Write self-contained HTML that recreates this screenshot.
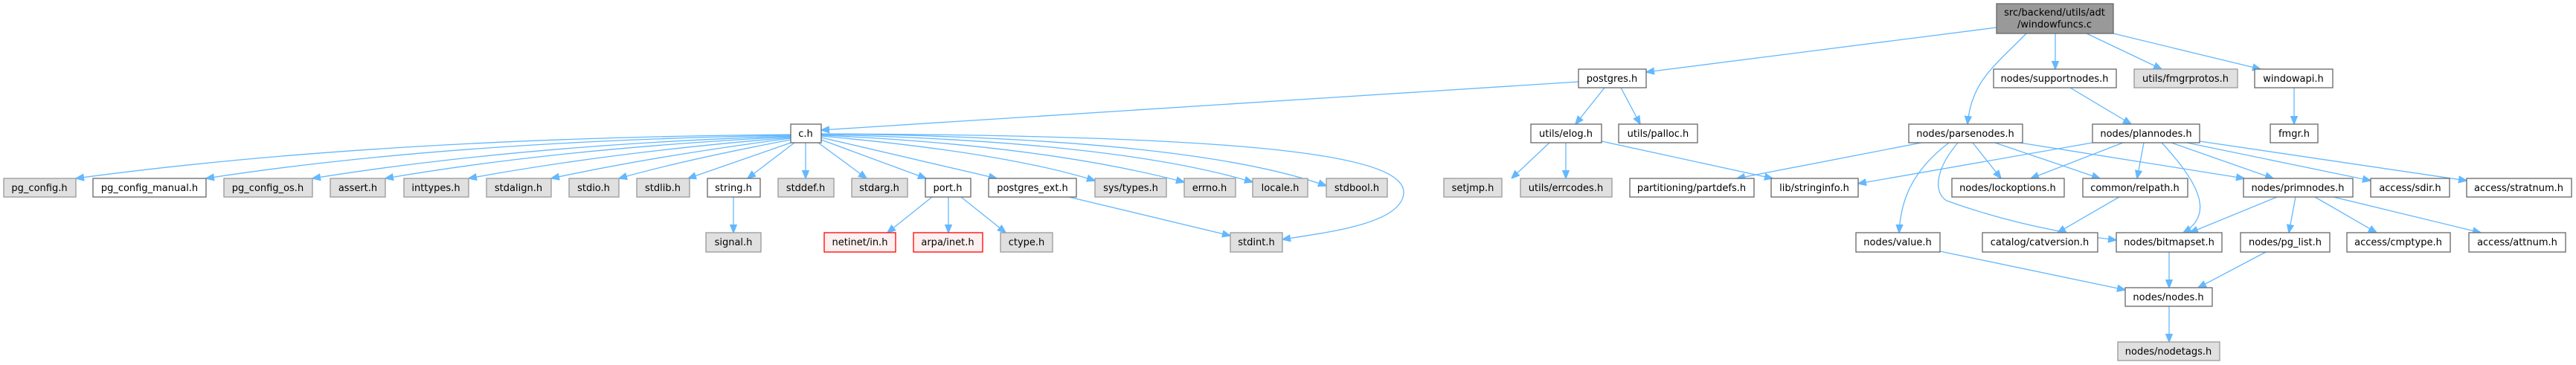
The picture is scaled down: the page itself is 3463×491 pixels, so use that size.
<!DOCTYPE html>
<html><head><meta charset="utf-8"><style>
html,body{margin:0;padding:0;background:#fff;width:3463px;height:491px;overflow:hidden}
svg text{font-family:"DejaVu Sans","Liberation Sans",sans-serif;font-size:13px;fill:#000;text-anchor:middle}
.w{fill:#fff;stroke:#666;stroke-width:1.3}
.g{fill:#e0e0e0;stroke:#999;stroke-width:1.3}
.r{fill:#fff0f0;stroke:#f00;stroke-width:1.3}
.m{fill:#999;stroke:#666;stroke-width:1.3}
path{fill:none;stroke:#63b8ff;stroke-width:1.3}
</style></head><body>
<svg width="3463" height="491" viewBox="0 0 3463 491" xmlns="http://www.w3.org/2000/svg">
<defs><marker id="a" viewBox="0 0 10 10" refX="10" refY="5" markerWidth="11" markerHeight="11" markerUnits="userSpaceOnUse" orient="auto"><path d="M0,1 L10,5 L0,9 z" style="fill:#63b8ff;stroke:#63b8ff"/></marker></defs>
<g marker-end="url(#a)">
<!-- main -->
<path d="M2684,37 L2213,97"/>
<path d="M2724,45 C2680,90 2650,110 2645,167"/>
<path d="M2763,45 L2763,93"/>
<path d="M2805,45 L2906,93"/>
<path d="M2841,45 L3039,93"/>
<!-- postgres -->
<path d="M2122,110 L1104,175"/>
<path d="M2157,118 L2118,167"/>
<path d="M2179,118 L2205,167"/>
<!-- c.h fan -->
<path d="M1063,181 Q500,186 102,240"/>
<path d="M1063,182 Q600,190 277,240"/>
<path d="M1063,183 Q700,195 420,240"/>
<path d="M1063,184 Q750,200 518,240"/>
<path d="M1063,185 Q820,205 630,240"/>
<path d="M1063,186 Q880,210 741,240"/>
<path d="M1063,188 Q920,215 832,240"/>
<path d="M1066,191 L925,240"/>
<path d="M1068,192 L1005,240"/>
<path d="M1083,192 L1083,240"/>
<path d="M1100,192 L1165,240"/>
<path d="M1104,188 L1245,240"/>
<path d="M1104,185 L1340,240"/>
<path d="M1104,183 Q1350,205 1472,243"/>
<path d="M1104,182 Q1400,195 1592,245"/>
<path d="M1104,181 Q1500,190 1684,245"/>
<path d="M1104,180 Q1600,185 1783,250"/>
<path d="M1104,180 C1700,182 1890,210 1887,260 C1884,300 1790,312 1724,322"/>
<!-- second level -->
<path d="M986,265 L986,313"/>
<path d="M1253,265 L1193,313"/>
<path d="M1275,265 L1275,313"/>
<path d="M1292,265 L1352,313"/>
<path d="M1437,265 L1654,317"/>
<!-- elog -->
<path d="M2083,192 L2032,240"/>
<path d="M2105,192 L2105,240"/>
<path d="M2153,190 L2383,240"/>
<!-- parsenodes -->
<path d="M2583,192 L2335,240"/>
<path d="M2620,192 C2570,230 2555,270 2553,313"/>
<path d="M2632,192 C2600,230 2600,260 2617,270 C2700,300 2780,315 2845,323"/>
<path d="M2652,192 L2690,240"/>
<path d="M2682,192 L2823,240"/>
<path d="M2715,192 L3017,240"/>
<!-- plannodes -->
<path d="M2813,192 L2498,247"/>
<path d="M2854,192 L2730,240"/>
<path d="M2882,192 L2873,240"/>
<path d="M2906,192 C2960,250 2975,290 2935,313"/>
<path d="M2919,192 L3056,240"/>
<path d="M2940,192 L3187,243"/>
<path d="M2957,190 L3316,243"/>
<!-- supportnodes, windowapi -->
<path d="M2783,118 L2865,167"/>
<path d="M3084,118 L3084,167"/>
<!-- relpath, primnodes -->
<path d="M2849,265 L2766,313"/>
<path d="M3061,265 L2944,313"/>
<path d="M3086,265 L3077,313"/>
<path d="M3112,265 L3195,313"/>
<path d="M3137,265 L3335,313"/>
<!-- to nodes.h -->
<path d="M2608,338 L2857,390"/>
<path d="M2916,339 L2916,387"/>
<path d="M3046,339 L2955,387"/>
<path d="M2916,412 L2916,460"/>
</g>
<!-- nodes -->
<rect class="m" x="2684" y="5" width="157" height="40"/><text x="2762" y="21">src/backend/utils/adt</text><text x="2762" y="37">/windowfuncs.c</text>
<g>
<rect class="w" x="2122" y="93" width="91" height="25"/><text x="2167" y="110">postgres.h</text>
<rect class="w" x="2680" y="93" width="165" height="25"/><text x="2762" y="110">nodes/supportnodes.h</text>
<rect class="g" x="2869" y="93" width="139" height="25"/><text x="2938" y="110">utils/fmgrprotos.h</text>
<rect class="w" x="3031" y="93" width="105" height="25"/><text x="3083" y="110">windowapi.h</text>

<rect class="w" x="1063" y="167" width="41" height="25"/><text x="1083" y="184">c.h</text>
<rect class="w" x="2058" y="167" width="95" height="25"/><text x="2105" y="184">utils/elog.h</text>
<rect class="w" x="2176" y="167" width="106" height="25"/><text x="2229" y="184">utils/palloc.h</text>
<rect class="w" x="2566" y="167" width="153" height="25"/><text x="2642" y="184">nodes/parsenodes.h</text>
<rect class="w" x="2813" y="167" width="144" height="25"/><text x="2885" y="184">nodes/plannodes.h</text>
<rect class="w" x="3052" y="167" width="64" height="25"/><text x="3084" y="184">fmgr.h</text>

<rect class="g" x="5" y="240" width="97" height="25"/><text x="53" y="257">pg_config.h</text>
<rect class="w" x="125" y="240" width="152" height="25"/><text x="201" y="257">pg_config_manual.h</text>
<rect class="g" x="301" y="240" width="119" height="25"/><text x="360" y="257">pg_config_os.h</text>
<rect class="g" x="444" y="240" width="74" height="25"/><text x="481" y="257">assert.h</text>
<rect class="g" x="543" y="240" width="87" height="25"/><text x="586" y="257">inttypes.h</text>
<rect class="g" x="654" y="240" width="87" height="25"/><text x="697" y="257">stdalign.h</text>
<rect class="g" x="765" y="240" width="67" height="25"/><text x="798" y="257">stdio.h</text>
<rect class="g" x="856" y="240" width="71" height="25"/><text x="891" y="257">stdlib.h</text>
<rect class="w" x="951" y="240" width="71" height="25"/><text x="986" y="257">string.h</text>
<rect class="g" x="1046" y="240" width="75" height="25"/><text x="1083" y="257">stddef.h</text>
<rect class="g" x="1145" y="240" width="75" height="25"/><text x="1182" y="257">stdarg.h</text>
<rect class="w" x="1244" y="240" width="61" height="25"/><text x="1274" y="257">port.h</text>
<rect class="w" x="1329" y="240" width="118" height="25"/><text x="1388" y="257">postgres_ext.h</text>
<rect class="g" x="1472" y="240" width="96" height="25"/><text x="1520" y="257">sys/types.h</text>
<rect class="g" x="1592" y="240" width="69" height="25"/><text x="1626" y="257">errno.h</text>
<rect class="g" x="1684" y="240" width="74" height="25"/><text x="1721" y="257">locale.h</text>
<rect class="g" x="1783" y="240" width="82" height="25"/><text x="1824" y="257">stdbool.h</text>
<rect class="g" x="1941" y="240" width="78" height="25"/><text x="1980" y="257">setjmp.h</text>
<rect class="g" x="2044" y="240" width="123" height="25"/><text x="2105" y="257">utils/errcodes.h</text>
<rect class="w" x="2191" y="240" width="167" height="25"/><text x="2274" y="257">partitioning/partdefs.h</text>
<rect class="w" x="2381" y="240" width="117" height="25"/><text x="2439" y="257">lib/stringinfo.h</text>
<rect class="w" x="2624" y="240" width="151" height="25"/><text x="2699" y="257">nodes/lockoptions.h</text>
<rect class="w" x="2800" y="240" width="141" height="25"/><text x="2870" y="257">common/relpath.h</text>
<rect class="w" x="3016" y="240" width="147" height="25"/><text x="3089" y="257">nodes/primnodes.h</text>
<rect class="w" x="3187" y="240" width="106" height="25"/><text x="3240" y="257">access/sdir.h</text>
<rect class="w" x="3316" y="240" width="141" height="25"/><text x="3386" y="257">access/stratnum.h</text>

<rect class="g" x="949" y="313" width="74" height="26"/><text x="986" y="330">signal.h</text>
<rect class="r" x="1108" y="313" width="96" height="26"/><text x="1156" y="330">netinet/in.h</text>
<rect class="r" x="1228" y="313" width="93" height="26"/><text x="1274" y="330">arpa/inet.h</text>
<rect class="g" x="1345" y="313" width="70" height="26"/><text x="1380" y="330">ctype.h</text>
<rect class="g" x="1654" y="313" width="70" height="26"/><text x="1689" y="330">stdint.h</text>
<rect class="w" x="2495" y="313" width="113" height="26"/><text x="2551" y="330">nodes/value.h</text>
<rect class="w" x="2665" y="313" width="155" height="26"/><text x="2742" y="330">catalog/catversion.h</text>
<rect class="w" x="2845" y="313" width="142" height="26"/><text x="2916" y="330">nodes/bitmapset.h</text>
<rect class="w" x="3012" y="313" width="120" height="26"/><text x="3072" y="330">nodes/pg_list.h</text>
<rect class="w" x="3155" y="313" width="139" height="26"/><text x="3224" y="330">access/cmptype.h</text>
<rect class="w" x="3319" y="313" width="130" height="26"/><text x="3384" y="330">access/attnum.h</text>

<rect class="w" x="2857" y="387" width="117" height="25"/><text x="2915" y="404">nodes/nodes.h</text>
<rect class="g" x="2847" y="460" width="137" height="25"/><text x="2915" y="477">nodes/nodetags.h</text>
</g>
</svg>
</body></html>
